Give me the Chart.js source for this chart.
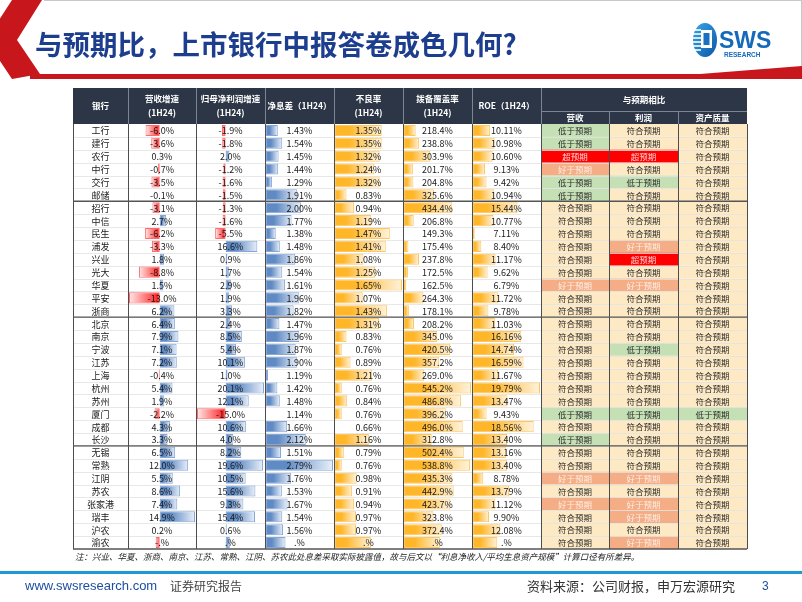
<!DOCTYPE html>
<html>
<head>
<meta charset="utf-8">
<script src="https://cdn.jsdelivr.net/npm/chart.js@4.4.1/dist/chart.umd.min.js"></script>
<style>
html, body { margin: 0; padding: 0; background: #fff; }
#page { position: relative; width: 802px; height: 602px; overflow: hidden; font-family: "Noto Sans CJK SC", "Noto Sans", sans-serif; }
#table { position: absolute; left: 0; top: 0; }
.deco { position: absolute; left: 0; top: 0; }
.title { position: absolute; left: 35px; top: 25px; font-size: 27.5px; font-weight: 700; color: #1d3e8e; white-space: nowrap; line-height: 36px; }
.note { position: absolute; left: 75px; top: 550px; font-size: 8.5px; font-style: italic; color: #222; white-space: nowrap; }
.rule { position: absolute; left: 0; top: 571px; width: 802px; height: 3px; background: #1c9ad6; }
.foot { position: absolute; top: 577px; line-height: 18px; white-space: nowrap; }
</style>
</head>
<body>
<div id="page">
  <canvas id="table" width="802" height="602"></canvas>

  <svg class="deco" width="802" height="90">
    <defs>
      <linearGradient id="logoBlue" x1="0" y1="0" x2="1" y2="1">
        <stop offset="0" stop-color="#39a7e6"/>
        <stop offset="1" stop-color="#0b56a8"/>
      </linearGradient>
    </defs>
    <line x1="44" y1="0.5" x2="802" y2="0.5" stroke="#c8c8c8"/>
    <line x1="801.5" y1="0" x2="801.5" y2="70" stroke="#c8c8c8"/>
    <polygon points="12,0 42,0 17,40 40,74 12,79 -14,40" fill="#c8161d"/>
    <rect x="30" y="74" width="772" height="5" fill="#c8161d"/>
    <polygon points="700,74 802,66 802,79 700,79" fill="#c8161d"/>
    <!-- logo -->
    <ellipse cx="705" cy="40" rx="12" ry="17" fill="url(#logoBlue)"/>
    <g stroke="#fff" stroke-width="1.6">
      <line x1="693" y1="30" x2="701" y2="30"/>
      <line x1="693" y1="34" x2="701" y2="34"/>
      <line x1="693" y1="38" x2="701" y2="38"/>
      <line x1="693" y1="42" x2="701" y2="42"/>
      <line x1="693" y1="46" x2="701" y2="46"/>
      <line x1="694" y1="50" x2="701" y2="50"/>
    </g>
    <rect x="701" y="30" width="11" height="18" fill="#fff"/>
    <rect x="703.5" y="33" width="6" height="12" fill="#1b6fc0"/>
    <text x="719" y="48" font-family="Liberation Sans, Arial, sans-serif" font-weight="700" font-size="23" fill="#1469bb">SWS</text>
    <text x="724" y="57" font-family="Liberation Sans, Arial, sans-serif" font-weight="700" font-size="6.5" fill="#1469bb">RESEARCH</text>
  </svg>

  <div class="title">与预期比，上市银行中报答卷成色几何?</div>
  <div class="note">注：兴业、华夏、浙商、南京、江苏、常熟、江阴、苏农此处息差采取实际披露值，故与后文以“利息净收入/平均生息资产规模”计算口径有所差异。</div>
  <div class="rule"></div>
  <div class="foot" style="left:25px;font-family:'Liberation Sans',Arial,sans-serif;font-size:13px;color:#1f4ea1;">www.swsresearch.com</div>
  <div class="foot" style="left:170px;font-size:12px;color:#444;">证券研究报告</div>
  <div class="foot" style="left:527px;font-size:13px;color:#333;">资料来源：公司财报，申万宏源研究</div>
  <div class="foot" style="left:762px;font-family:'Liberation Sans',Arial,sans-serif;font-size:12px;color:#1f4ea1;">3</div>
</div>

<script>
// --- Données ---
const banks = ['工行', '建行', '农行', '中行', '交行', '邮储',
    '招行', '中信', '民生', '浦发', '兴业', '光大', '华夏', '平安', '浙商',
    '北京', '南京', '宁波', '江苏', '上海', '杭州', '苏州', '厦门', '成都', '长沙',
    '无锡', '常熟', '江阴', '苏农', '张家港', '瑞丰', '沪农', '渝农'];

const revenueGrowth = [-6.0, -3.6, 0.3, -0.7, -3.5, -0.1,
    -3.1, 2.7, -6.2, -3.3, 1.8, -8.8, 1.5, -13.0, 6.2,
    6.4, 7.9, 7.1, 7.2, -0.4, 5.4, 1.9, -2.2, 4.3, 3.3,
    6.5, 12.0, 5.5, 8.6, 7.4, 14.9, 0.2, -1.7];
const profitGrowth = [-1.9, -1.8, 2.0, -1.2, -1.6, -1.5,
    -1.3, -1.6, -5.5, 16.6, 0.9, 1.7, 2.9, 1.9, 3.3,
    2.4, 8.5, 5.4, 10.1, 1.0, 20.1, 12.1, -15.0, 10.6, 4.0,
    8.2, 19.6, 10.5, 15.6, 9.3, 15.4, 0.6, 2.2];
const nim = [1.43, 1.54, 1.45, 1.44, 1.29, 1.91,
    2.00, 1.77, 1.38, 1.48, 1.86, 1.54, 1.61, 1.96, 1.82,
    1.47, 1.96, 1.87, 1.90, 1.19, 1.42, 1.48, 1.14, 1.66, 2.12,
    1.51, 2.79, 1.76, 1.53, 1.67, 1.54, 1.56, 1.62];
const npl = [1.35, 1.35, 1.32, 1.24, 1.32, 0.83,
    0.94, 1.19, 1.47, 1.41, 1.08, 1.25, 1.65, 1.07, 1.43,
    1.31, 0.83, 0.76, 0.89, 1.21, 0.76, 0.84, 0.76, 0.66, 1.16,
    0.79, 0.76, 0.98, 0.91, 0.94, 0.97, 0.97, 1.19];
const provision = [218.4, 238.8, 303.9, 201.7, 204.8, 325.6,
    434.4, 206.8, 149.3, 175.4, 237.8, 172.5, 162.5, 264.3, 178.1,
    208.2, 345.0, 420.5, 357.2, 269.0, 545.2, 486.8, 396.2, 496.0, 312.8,
    502.4, 538.8, 435.3, 442.9, 423.7, 323.8, 372.4, 361.0];
const roe = [10.11, 10.98, 10.60, 9.13, 9.42, 10.94,
    15.44, 10.77, 7.11, 8.40, 11.17, 9.62, 6.79, 11.72, 9.78,
    11.03, 16.16, 14.74, 16.59, 11.67, 19.79, 13.47, 9.43, 18.56, 13.40,
    13.16, 13.40, 8.78, 13.79, 11.12, 9.90, 12.08, 11.50];

const revenueExp = ['低于预期', '低于预期', '超预期', '好于预期', '低于预期', '低于预期',
    '符合预期', '符合预期', '符合预期', '符合预期', '符合预期', '符合预期', '好于预期', '符合预期', '符合预期',
    '符合预期', '符合预期', '符合预期', '符合预期', '符合预期', '符合预期', '符合预期', '低于预期', '符合预期', '低于预期',
    '符合预期', '符合预期', '好于预期', '符合预期', '好于预期', '符合预期', '符合预期', '符合预期'];
const profitExp = ['符合预期', '符合预期', '超预期', '符合预期', '低于预期', '符合预期',
    '符合预期', '符合预期', '符合预期', '好于预期', '超预期', '符合预期', '好于预期', '符合预期', '符合预期',
    '符合预期', '符合预期', '低于预期', '符合预期', '符合预期', '符合预期', '符合预期', '低于预期', '符合预期', '符合预期',
    '符合预期', '符合预期', '好于预期', '符合预期', '好于预期', '好于预期', '符合预期', '好于预期'];
const assetExp = ['符合预期', '符合预期', '符合预期', '符合预期', '符合预期', '符合预期',
    '符合预期', '符合预期', '符合预期', '符合预期', '符合预期', '符合预期', '符合预期', '符合预期', '符合预期',
    '符合预期', '符合预期', '符合预期', '符合预期', '符合预期', '符合预期', '符合预期', '低于预期', '符合预期', '符合预期',
    '符合预期', '符合预期', '符合预期', '符合预期', '符合预期', '符合预期', '符合预期', '符合预期'];

const sectionEnds = [6, 15, 25];   // lignes de séparation des groupes
const maskedBank = '渝农';          // chiffres masqués (".%") dans la source

const headers = [['银行'], ['营收增速', '(1H24)'], ['归母净利润增速', '(1H24)'], ['净息差（1H24）'],
    ['不良率', '(1H24)'], ['拨备覆盖率', '(1H24)'], ['ROE（1H24）']];
const expGroupTitle = '与预期相比';
const expHeaders = ['营收', '利润', '资产质量'];

// --- Mise en page ---
const COLS = [73, 128, 196, 265, 334, 403, 472, 541, 609, 678, 747];
const HEADER_TOP = 88;
const BODY_TOP = 124;
const BODY_BOTTOM = 549;
const FONT = '"Noto Sans CJK SC", "Noto Sans", sans-serif';

const expStyle = {
    '符合预期': { bg: '#fde9c4', fg: '#2b2b2b' },
    '低于预期': { bg: '#c5e0b4', fg: '#2b2b2b' },
    '好于预期': { bg: '#f4ad85', fg: '#fdeee4' },
    '超预期': { bg: '#ff0000', fg: '#ffd6d6' }
};

const BLUE = '#5f8ac4', RED = '#ff1a1a', ORANGE = '#ffb628';
const tint = { [BLUE]: '#e9f0f9', [RED]: '#ffeaea', [ORANGE]: '#fff3dd' };

const numCols = [
    { data: revenueGrowth, dec: 1, zeroBase: true },
    { data: profitGrowth, dec: 1, zeroBase: true },
    { data: nim, dec: 2, color: BLUE },
    { data: npl, dec: 2, color: ORANGE },
    { data: provision, dec: 1, color: ORANGE },
    { data: roe, dec: 2, color: ORANGE }
];

// axe de chaque colonne : [min, max] des valeurs -> bords de la colonne
function placeAxis(values, left, right) {
    const lo = Math.min(...values), hi = Math.max(...values);
    const k = (right - left) / (hi - lo);
    return { min: lo - (left - COLS[0]) / k, max: hi + (COLS[10] - right) / k, lo };
}

function barColorOf(ds, v) {
    return ds.zeroBase ? (v < 0 ? RED : BLUE) : ds.barColor;
}

function barFill(ctx) {
    const ds = ctx.dataset;
    const v = ctx.raw;
    const color = barColorOf(ds, v);
    if (ctx.type !== 'data') return color;
    const scale = ctx.chart.scales[ds.xAxisID];
    if (!scale) return color;
    const x0 = scale.getPixelForValue(ds.zeroBase ? 0 : ds.base);
    const x1 = scale.getPixelForValue(v);
    if (!isFinite(x0) || !isFinite(x1) || Math.abs(x1 - x0) < 1) return color;
    const g = ctx.chart.ctx.createLinearGradient(x0, 0, x1, 0);
    g.addColorStop(0, color);
    if (color !== RED) g.addColorStop(0.3, color);
    g.addColorStop(1, tint[color]);
    return g;
}

function barBorder(ctx) {
    const c = barColorOf(ctx.dataset, ctx.raw);
    return c === BLUE ? '#85a6d6' : c === RED ? '#ff6b6b' : '#ffc65a';
}

const scales = {
    y: { type: 'category', labels: banks, display: false, offset: true, grid: { display: false } }
};
const datasets = [];
numCols.forEach((col, i) => {
    const ax = placeAxis(col.data, COLS[i + 1] + 1, COLS[i + 2] - 1);
    const id = 'x' + i;
    scales[id] = { type: 'linear', display: false, min: ax.min, max: ax.max, grid: { display: false } };
    datasets.push({
        data: col.data,
        xAxisID: id,
        yAxisID: 'y',
        base: col.zeroBase ? 0 : ax.lo,
        zeroBase: !!col.zeroBase,
        barColor: col.color,
        grouped: false,
        categoryPercentage: 1,
        barPercentage: 0.86,
        backgroundColor: barFill,
        borderColor: barBorder,
        borderWidth: 1,
        borderSkipped: false
    });
});

function fmt(v, dec, bank) {
    if (bank === maskedBank) return (v < 0 ? '-' : '') + '.%';
    return v.toFixed(dec) + '%';
}

// --- Tableau (fond, grille, textes) ---
const tablePlugin = {
    id: 'tableFrame',
    beforeDraw(chart) {
        const { ctx, scales: { y } } = chart;
        const step = y.getPixelForValue(1) - y.getPixelForValue(0);
        ctx.save();
        ctx.fillStyle = '#fff';
        ctx.fillRect(0, 0, chart.width, chart.height);
        ctx.fillStyle = '#2c3646';
        ctx.fillRect(COLS[0], HEADER_TOP, COLS[10] - COLS[0], BODY_TOP - HEADER_TOP);
        // cases "与预期相比"
        [revenueExp, profitExp, assetExp].forEach((arr, c) => {
            arr.forEach((txt, i) => {
                const yc = y.getPixelForValue(i);
                ctx.fillStyle = expStyle[txt].bg;
                ctx.fillRect(COLS[7 + c], yc - step / 2, COLS[8 + c] - COLS[7 + c], step);
            });
        });
        // lignes horizontales fines
        ctx.strokeStyle = '#e2e2e2';
        ctx.lineWidth = 0.8;
        for (let i = 1; i < banks.length; i++) {
            const yy = Math.round(y.getPixelForValue(i) - step / 2) + 0.5;
            ctx.beginPath();
            ctx.moveTo(COLS[0], yy);
            ctx.lineTo(COLS[10], yy);
            ctx.stroke();
        }
        ctx.restore();
    },
    afterDatasetsDraw(chart) {
        const { ctx, scales: { y } } = chart;
        const step = y.getPixelForValue(1) - y.getPixelForValue(0);
        ctx.save();

        // verticales
        ctx.strokeStyle = '#4d4d4d';
        ctx.lineWidth = 1;
        COLS.forEach(x => {
            ctx.beginPath();
            ctx.moveTo(x + 0.5, BODY_TOP);
            ctx.lineTo(x + 0.5, BODY_BOTTOM);
            ctx.stroke();
        });
        // séparateurs de groupes + bas du tableau
        ctx.strokeStyle = '#555';
        ctx.lineWidth = 1.3;
        sectionEnds.concat([banks.length]).forEach(n => {
            const yy = y.getPixelForValue(n - 1) + step / 2;
            ctx.beginPath();
            ctx.moveTo(COLS[0], yy);
            ctx.lineTo(COLS[10], yy);
            ctx.stroke();
        });

        // en-tête
        const midHeader = (HEADER_TOP + BODY_TOP) / 2;
        const subTop = 111;
        ctx.strokeStyle = '#7c8594';
        ctx.lineWidth = 1;
        for (let c = 1; c <= 7; c++) {
            ctx.beginPath();
            ctx.moveTo(COLS[c] + 0.5, HEADER_TOP);
            ctx.lineTo(COLS[c] + 0.5, BODY_TOP);
            ctx.stroke();
        }
        for (let c = 8; c <= 9; c++) {
            ctx.beginPath();
            ctx.moveTo(COLS[c] + 0.5, subTop);
            ctx.lineTo(COLS[c] + 0.5, BODY_TOP);
            ctx.stroke();
        }
        ctx.beginPath();
        ctx.moveTo(COLS[7], subTop + 0.5);
        ctx.lineTo(COLS[10], subTop + 0.5);
        ctx.stroke();

        ctx.fillStyle = '#fff';
        ctx.font = 'bold 8.5px ' + FONT;
        ctx.textAlign = 'center';
        ctx.textBaseline = 'middle';
        headers.forEach((lines, c) => {
            const xc = (COLS[c] + COLS[c + 1]) / 2;
            if (lines.length === 1) ctx.fillText(lines[0], xc, midHeader);
            else {
                ctx.fillText(lines[0], xc, midHeader - 7);
                ctx.fillText(lines[1], xc, midHeader + 7);
            }
        });
        ctx.fillText(expGroupTitle, (COLS[7] + COLS[10]) / 2, (HEADER_TOP + subTop) / 2);
        expHeaders.forEach((t, c) => {
            ctx.fillText(t, (COLS[7 + c] + COLS[8 + c]) / 2, (subTop + BODY_TOP) / 2 + 0.5);
        });

        // corps
        ctx.font = '9px ' + FONT;
        banks.forEach((bank, i) => {
            const yc = y.getPixelForValue(i) + 0.5;
            ctx.fillStyle = '#1a1a1a';
            ctx.fillText(bank, (COLS[0] + COLS[1]) / 2, yc);
            numCols.forEach((col, c) => {
                ctx.fillText(fmt(col.data[i], col.dec, bank), (COLS[c + 1] + COLS[c + 2]) / 2, yc);
            });
        });
        ctx.font = '8.5px ' + FONT;
        [revenueExp, profitExp, assetExp].forEach((arr, c) => {
            arr.forEach((txt, i) => {
                ctx.fillStyle = expStyle[txt].fg;
                ctx.fillText(txt, (COLS[7 + c] + COLS[8 + c]) / 2, y.getPixelForValue(i) + 0.5);
            });
        });
        ctx.restore();
    }
};

new Chart(document.getElementById('table').getContext('2d'), {
    type: 'bar',
    data: { labels: banks, datasets },
    options: {
        indexAxis: 'y',
        responsive: false,
        animation: false,
        events: [],
        layout: { padding: { left: COLS[0], right: 802 - COLS[10], top: BODY_TOP, bottom: 602 - BODY_BOTTOM } },
        scales,
        plugins: { legend: { display: false }, tooltip: { enabled: false } }
    },
    plugins: [tablePlugin]
});
</script>
</body>
</html>
